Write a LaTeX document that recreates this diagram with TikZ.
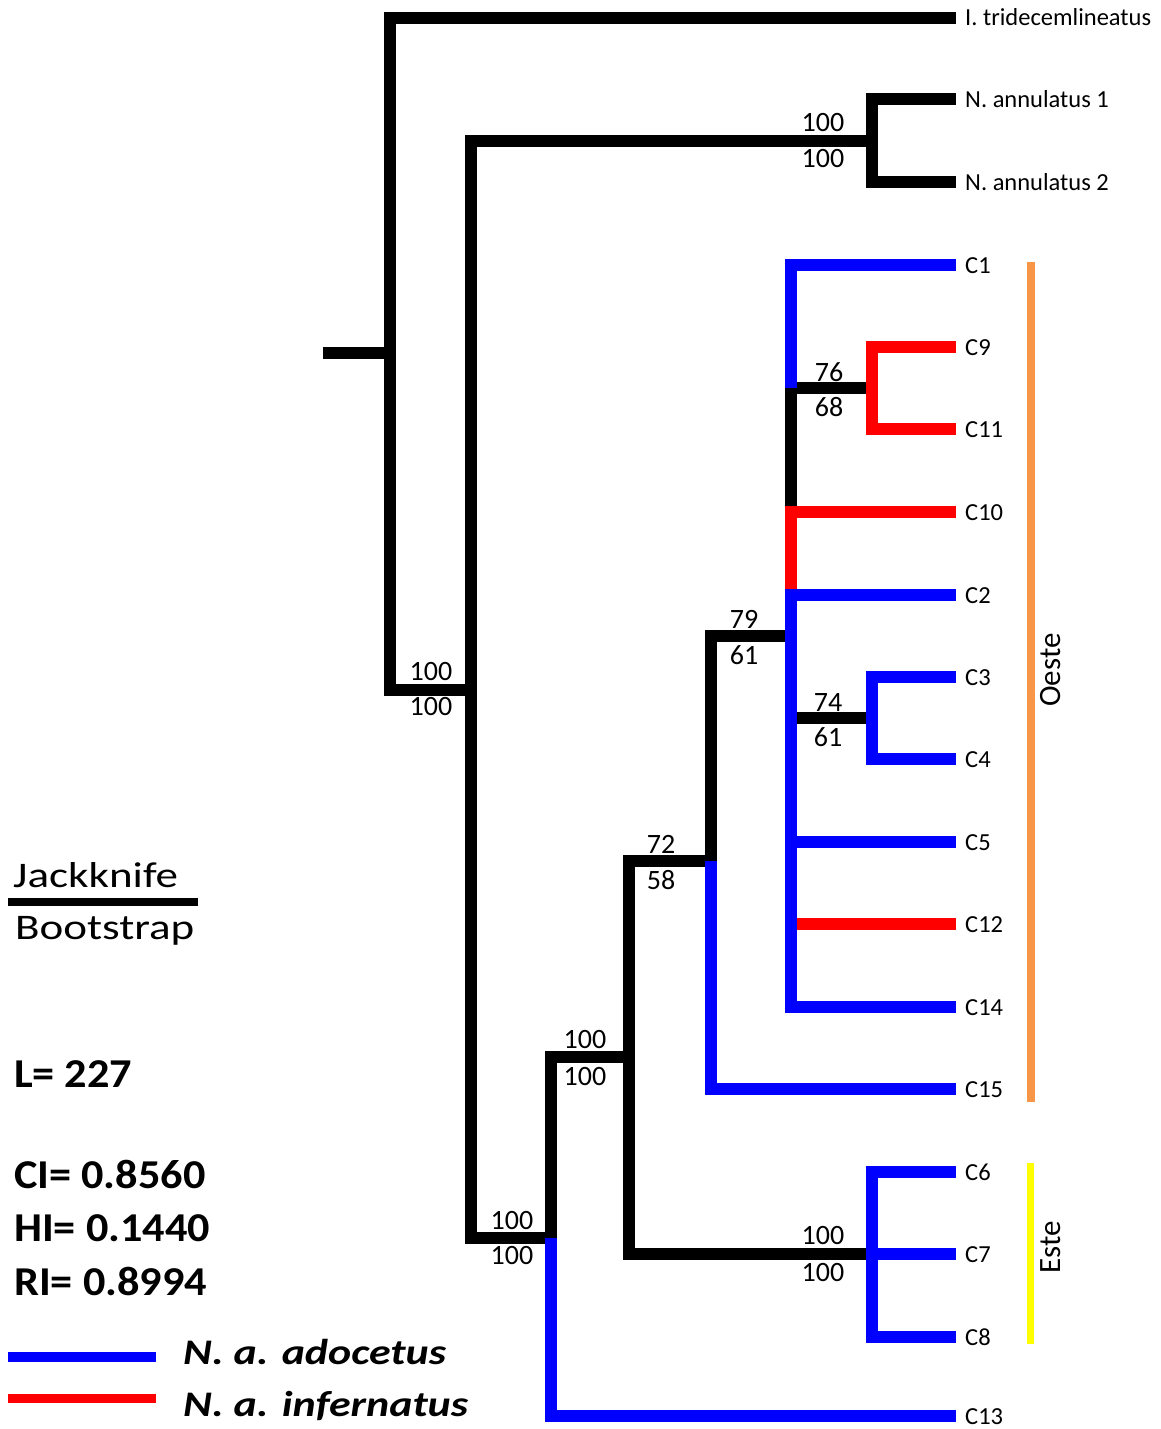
\documentclass[tikz,border=0pt]{standalone}
\usepackage{fontspec}
\setmainfont{Carlito}
\newfontfamily\keyfont[FakeStretch=1.25]{Carlito}
\newfontfamily\statfont[FakeStretch=1.08]{Carlito}
\newfontfamily\taxfont[FakeStretch=1.22]{Carlito}
\usetikzlibrary{calc}

\definecolor{oeste}{HTML}{F79646}
\definecolor{este}{HTML}{FFFF00}

\begin{document}
\begin{tikzpicture}[
  x=1pt, y=-1pt,
  br/.style={line width=11.5pt, draw=black},
  adoc/.style={br, draw=blue},
  infer/.style={br, draw=red},
  tip/.style={anchor=west, inner xsep=9pt, inner ysep=0pt, text height=16pt, text depth=0pt,
              font=\fontsize{24.5}{28}\selectfont},
  supp/.style={anchor=base, inner sep=0pt, font=\fontsize{28}{32}\selectfont},
  lg/.style={anchor=base west, inner sep=0pt, font=\keyfont\fontsize{36}{44}\selectfont},
  stat/.style={anchor=base west, inner sep=0pt, font=\statfont\fontsize{41}{48}\selectfont\bfseries},
  taxon/.style={anchor=base west, inner sep=0pt, font=\taxfont\fontsize{36}{44}\selectfont\bfseries\itshape},
  region/.style={rotate=90, inner sep=0pt, font=\fontsize{31}{36}\selectfont},
]
  \useasboundingbox (0,0) rectangle (1161,1429);

  % ----- Terminals -----
  \node[tip] (tri) at (956,18)   {I. tridecemlineatus};
  \node[tip] (an1) at (956,99)   {N. annulatus 1};
  \node[tip] (an2) at (956,182)  {N. annulatus 2};
  \node[tip] (c1)  at (956,265)  {C1};
  \node[tip] (c9)  at (956,347)  {C9};
  \node[tip] (c11) at (956,429)  {C11};
  \node[tip] (c10) at (956,512)  {C10};
  \node[tip] (c2)  at (956,595)  {C2};
  \node[tip] (c3)  at (956,677)  {C3};
  \node[tip] (c4)  at (956,759)  {C4};
  \node[tip] (c5)  at (956,842)  {C5};
  \node[tip] (c12) at (956,924)  {C12};
  \node[tip] (c14) at (956,1007) {C14};
  \node[tip] (c15) at (956,1089) {C15};
  \node[tip] (c6)  at (956,1172) {C6};
  \node[tip] (c7)  at (956,1254) {C7};
  \node[tip] (c8)  at (956,1337) {C8};
  \node[tip] (c13) at (956,1416) {C13};

  % ----- Internal nodes -----
  \coordinate (base)  at (323,353);
  \coordinate (root)  at (390,353);
  \coordinate (nA)    at (471,690);
  \coordinate (nAnn)  at (872,141);
  \coordinate (nB)    at (551,1238);
  \coordinate (nC)    at (629,1057);
  \coordinate (nEste) at (872,1254);
  \coordinate (nD)    at (711,861);
  \coordinate (nE)    at (791,636);
  \coordinate (n911)  at (872,388);
  \coordinate (n34)   at (872,718);
  % colour breaks on the polytomy
  \coordinate (kC2)   at (nE |- c2);
  \coordinate (k10)   at (nE |- c10);
  \coordinate (k911)  at (nE |- n911);

  % ----- Black branches -----
  \draw[br] (base) -- (root);
  \draw[br] (root) |- (tri.west);
  \draw[br] (root) |- (nA);
  \draw[br] (nA) |- (nAnn);
  \draw[br] (nAnn) |- (an1.west);
  \draw[br] (nAnn) |- (an2.west);
  \draw[br] (nA) |- (nB);
  \draw[br] (nB) |- (nC);
  \draw[br] (nC) |- (nD);
  \draw[br] (nC) |- (nEste);
  \draw[br] (nD) |- (nE);
  \draw[br] (nE |- n34) -- (n34);
  \draw[br] (k10) |- (n911);

  % ----- Red branches -----
  \draw[infer] (nE |- c12) -- (c12.west);
  \draw[infer] (kC2) |- (c10.west);
  \draw[infer] (n911) |- (c9.west);
  \draw[infer] (n911) |- (c11.west);

  % ----- Blue branches -----
  \draw[adoc] (nB) |- (c13.west);
  \draw[adoc] (nD) |- (c15.west);
  \draw[adoc] (nE) |- (c2.west);
  \draw[adoc] (nE) |- (c14.west);
  \draw[adoc] (nE |- c5) -- (c5.west);
  \draw[adoc] (k911) |- (c1.west);
  \draw[adoc] (n34) |- (c3.west);
  \draw[adoc] (n34) |- (c4.west);
  \draw[adoc] (nEste) |- (c6.west);
  \draw[adoc] (nEste) -- (c7.west);
  \draw[adoc] (nEste) |- (c8.west);

  % ----- Support values (jackknife over bootstrap) -----
  \node[supp] (jA)    at (431,680)  {100};
  \node[supp] (bA)    at (431,715)  {100};
  \node[supp] (jAnn)  at (823,131)  {100};
  \node[supp] (bAnn)  at (823,167)  {100};
  \node[supp] (jB)    at (512,1229) {100};
  \node[supp] (bB)    at (512,1264) {100};
  \node[supp] (jC)    at (585,1048) {100};
  \node[supp] (bC)    at (585,1085) {100};
  \node[supp] (jEste) at (823,1244) {100};
  \node[supp] (bEste) at (823,1281) {100};
  \node[supp] (jD)    at (661,853)  {72};
  \node[supp] (bD)    at (661,889)  {58};
  \node[supp] (jE)    at (744,628)  {79};
  \node[supp] (bE)    at (744,664)  {61};
  \node[supp] (j911)  at (829,381)  {76};
  \node[supp] (b911)  at (829,416)  {68};
  \node[supp] (j34)   at (828,711)  {74};
  \node[supp] (b34)   at (828,746)  {61};

  % ----- Geographic groups -----
  \coordinate (oTop) at (1031,262);
  \coordinate (oBot) at (1031,1102);
  \draw[oeste, line width=8pt] (oTop) -- (oBot);
  \node[region] (oeste) at (1051,670) {Oeste};
  \coordinate (eTop) at (1030,1163);
  \coordinate (eBot) at (1030,1344);
  \draw[este, line width=7pt] (eTop) -- (eBot);
  \node[region] (esteL) at (1051,1247) {Este};

  % ----- Legend -----
  \node[lg] (jack) at (13,887) {Jackknife};
  \coordinate (sepL) at (8,902);
  \coordinate (sepR) at (198,902);
  \draw[line width=8pt] (sepL) -- (sepR);
  \node[lg] (boot) at (15,939) {Bootstrap};

  \node[stat] (len) at (14,1087) {L= 227};
  \node[stat] (ci)  at (14,1188) {CI= 0.8560};
  \node[stat] (hi)  at (14,1241) {HI= 0.1440};
  \node[stat] (ri)  at (14,1295) {RI= 0.8994};

  \coordinate (bl1) at (8,1357);
  \coordinate (bl2) at (156,1357);
  \draw[blue, line width=10pt] (bl1) -- (bl2);
  \node[taxon] (adocL) at (183,1364) {N. a. adocetus};
  \coordinate (rl1) at (8,1398);
  \coordinate (rl2) at (156,1398);
  \draw[red, line width=9pt] (rl1) -- (rl2);
  \node[taxon] (infL) at (183,1416) {N. a. infernatus};
\end{tikzpicture}
\end{document}
